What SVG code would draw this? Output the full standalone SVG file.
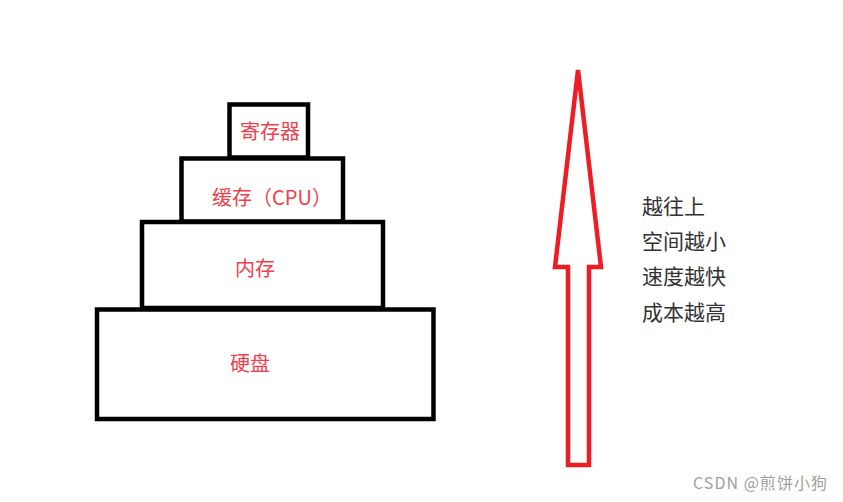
<svg xmlns="http://www.w3.org/2000/svg" width="843" height="502" viewBox="0 0 843 502">
<style>
.box{fill:none;stroke:#000;stroke-width:4.5}
.lbl{font-family:"Noto Sans CJK SC","Noto Sans",sans-serif;font-size:20px;fill:#f0404c;text-anchor:middle;dominant-baseline:central}
.side{font-family:"Noto Sans CJK SC","Noto Sans",sans-serif;font-size:21px;fill:#333}
.wm{font-family:"Noto Sans CJK SC","Noto Sans",sans-serif;font-size:16px;fill:#a0a0a0}
</style>
<rect width="843" height="502" fill="#fff"/>
<g id="register"><rect class="box" x="229.5" y="104.5" width="78.5" height="53"/><text class="lbl" x="270" y="130">寄存器</text></g>
<g id="cache"><rect class="box" x="181.5" y="158.5" width="161.5" height="63"/><text class="lbl" x="272" y="196">缓存（CPU）</text></g>
<g id="memory"><rect class="box" x="142" y="222" width="241" height="86"/><text class="lbl" x="255" y="267">内存</text></g>
<g id="disk"><rect class="box" x="97" y="309.5" width="336.5" height="109.5"/><text class="lbl" x="250" y="362">硬盘</text></g>
<g id="connectors"><polygon points="578,70 555,267 568,267 568,465 589,465 589,267 601,267" fill="none" stroke="#ee1c25" stroke-width="4.5" stroke-linejoin="miter"/></g>
<g id="notes">
<text class="side" x="642" y="214">越往上</text>
<text class="side" x="642" y="249">空间越小</text>
<text class="side" x="642" y="284">速度越快</text>
<text class="side" x="642" y="320">成本越高</text>
</g>
<text class="wm" x="693" y="489" textLength="134" lengthAdjust="spacing">CSDN @煎饼小狗</text>
</svg>
